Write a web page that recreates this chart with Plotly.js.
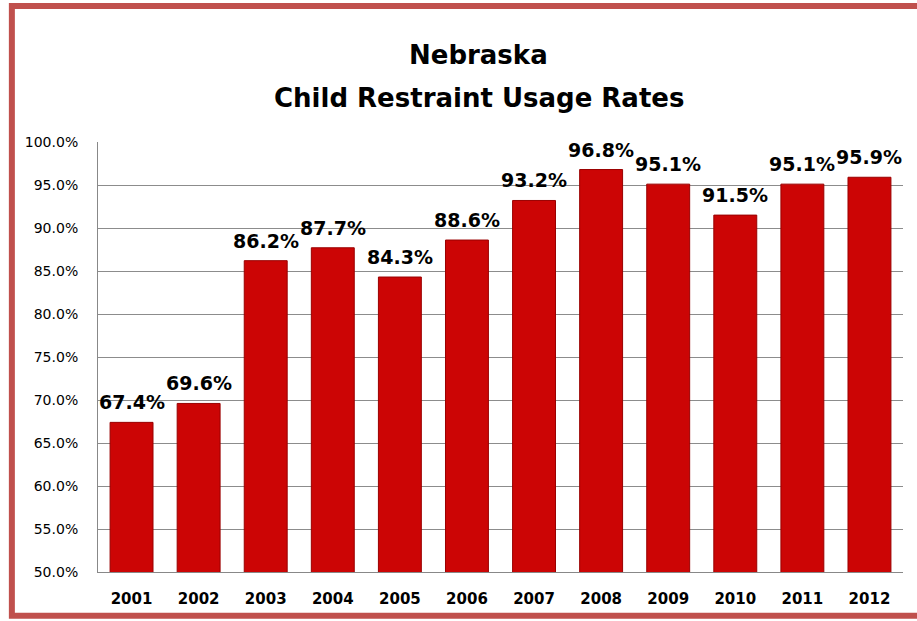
<!DOCTYPE html>
<html><head><meta charset="utf-8">
<script src="https://cdn.plot.ly/plotly-3.0.1.min.js"></script>
<style>html,body{margin:0;padding:0;background:#fff;}#chart{width:917px;height:621px;}</style>
</head><body><div id="chart"></div>
<script>
const years = ['2001','2002','2003','2004','2005','2006','2007','2008','2009','2010','2011','2012'];
const rates = [67.4, 69.6, 86.2, 87.7, 84.3, 88.6, 93.2, 96.8, 95.1, 91.5, 95.1, 95.9];
const labels = rates.map(v => v.toFixed(1) + '%');
const yTicks = [50,55,60,65,70,75,80,85,90,95,100];
const yTickText = yTicks.map(v => v.toFixed(1) + '%');
const titleLines = ['Nebraska', 'Child Restraint Usage Rates'];

const trace = {
  type: 'bar', x: years, y: rates,
  marker: {color: '#CC0505', line: {color: '#9A0000', width: 1}},
  hoverinfo: 'skip'
};
const valueAnnotations = years.map((yr, i) => ({
  x: i, y: rates[i], xref: 'x', yref: 'y', text: '<b>' + labels[i] + '</b>',
  showarrow: false, yanchor: 'bottom', xanchor: 'center', yshift: 7,
  font: {family: 'DejaVu Sans, Verdana', size: 19, color: '#000'}
}));
const titleAnnotations = titleLines.map((t, i) => ({
  x: 0.473, y: i === 0 ? 1.202 : 1.102, xref: 'paper', yref: 'paper', text: '<b>' + t + '</b>',
  showarrow: false, xanchor: 'center', yanchor: 'middle',
  font: {family: 'DejaVu Sans, sans-serif', size: 26, color: '#000'}
}));
const layout = {
  width: 917, height: 621,
  margin: {l: 98, r: 14, t: 142, b: 49},
  paper_bgcolor: '#fff', plot_bgcolor: '#fff',
  showlegend: false, bargap: 0.36,
  xaxis: {type: 'category', range: [-0.5, 11.5], showline: true, linecolor: '#888', linewidth: 1, ticks: '', ticklabelstandoff: 13,
    tickfont: {family: 'DejaVu Sans, Verdana', size: 15, color: '#000', weight: 'bold'}, fixedrange: true},
  yaxis: {range: [50, 100], tickvals: yTicks, ticktext: yTickText, showgrid: true, gridcolor: '#8c8c8c', gridwidth: 1,
    showline: true, linecolor: '#888', linewidth: 1, ticks: '', ticklabelstandoff: 16,
    tickfont: {family: 'DejaVu Sans, Verdana', size: 14, color: '#000'}, fixedrange: true},
  annotations: titleAnnotations.concat(valueAnnotations),
  shapes: [{type: 'rect', xref: 'paper', yref: 'paper', x0: -0.107, x1: 1.03, y0: -0.102, y1: 1.316,
    line: {color: '#C0504D', width: 6}, layer: 'above'}]
};
Plotly.newPlot('chart', [trace], layout, {displayModeBar: false, staticPlot: true});
</script></body></html>
